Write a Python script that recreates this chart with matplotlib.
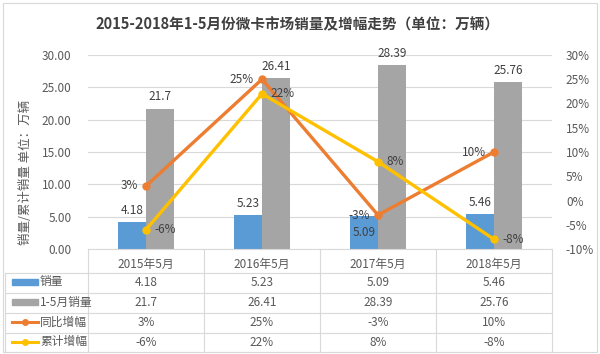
import numpy as np
import matplotlib
matplotlib.use('Agg')
import matplotlib.pyplot as plt
import matplotlib.transforms as mtransforms
from matplotlib.lines import Line2D
from matplotlib.patches import Rectangle

plt.rcParams['font.family'] = ['Noto Sans CJK SC', 'DejaVu Sans']

# data
categories = ['2015年5月', '2016年5月', '2017年5月', '2018年5月']
sales_may = [4.18, 5.23, 5.09, 5.46]
sales_jan_may = [21.7, 26.41, 28.39, 25.76]
yoy_growth = [3, 25, -3, 10]
cum_growth = [-6, 22, 8, -8]
series_names = ['销量', '1-5月销量', '同比增幅', '累计增幅']

c_blue = '#5B9BD5'
c_gray = '#A5A5A5'
c_orange = '#ED7D31'
c_yellow = '#FFC000'
txt = '#595959'
grid_c = '#D9D9D9'

W, H = 600, 354
fig = plt.figure(figsize=(6, 3.54), dpi=100)

def fx(px):
    return px / W

def fy(py):
    return 1 - py / H

# plot area in pixels: x 88..552, y 55..249
ax = fig.add_axes([fx(88), fy(249), fx(552) - fx(88), fy(55) - fy(249)])
ax2 = ax.twinx()

x = np.arange(len(categories))
bw = 0.24
ax.bar(x - bw / 2, sales_may, bw, color=c_blue, zorder=2)
ax.bar(x + bw / 2, sales_jan_may, bw, color=c_gray, zorder=2)

ax.set_xlim(-0.5, 3.5)
ax.set_ylim(0, 30)
ax.set_yticks(np.arange(0, 31, 5))
ax.set_yticklabels(['%.2f' % v for v in np.arange(0, 31, 5)])
ax.yaxis.grid(True, color=grid_c, lw=0.8, zorder=0)
ax.set_axisbelow(True)
ax.set_xticks([])
for s in ['top', 'left', 'right']:
    ax.spines[s].set_visible(False)
ax.spines['bottom'].set_color(grid_c)
ax.tick_params(axis='y', length=0, pad=12, labelsize=8.5, labelcolor=txt)

# bar labels
for i, v in enumerate(sales_may):
    if i == 2:
        ax.text(i - bw / 2, v - 1.6, '%.2f' % v, ha='center', va='top', fontsize=8.5, color='#404040')
    else:
        ax.text(i - bw / 2, v + 0.8, '%.2f' % v, ha='center', va='bottom', fontsize=8.5, color='#404040')
for i, v in enumerate(sales_jan_may):
    ax.text(i + bw / 2, v + 0.8, '%g' % v, ha='center', va='bottom', fontsize=8.5, color='#404040')

ax2.plot(x, yoy_growth, color=c_orange, lw=2.4, marker='o', ms=5, zorder=3)
ax2.plot(x, cum_growth, color=c_yellow, lw=2.4, marker='o', ms=5, zorder=3)
ax2.set_ylim(-10, 30)
ax2.set_yticks(np.arange(-10, 31, 5))
ax2.set_yticklabels(['%d%%' % v for v in np.arange(-10, 31, 5)])
ax2.tick_params(axis='y', length=0, pad=10, labelsize=8.5, labelcolor=txt)
for s in ax2.spines.values():
    s.set_visible(False)

for i, v in enumerate(yoy_growth):
    ax2.text(i - 0.07, v, '%d%%' % v, ha='right', va='center', fontsize=8.5, color='#404040')
for i, v in enumerate(cum_growth):
    ax2.text(i + 0.07, v, '%d%%' % v, ha='left', va='center', fontsize=8.5, color='#404040')

ax.set_ylabel('销量/累计销量 单位：万辆', fontsize=9, color=txt)
ax.yaxis.set_label_coords((32 - 88) / 464, (249 - 172) / 194)

fig.text(0.495, fy(24), '2015-2018年1-5月份微卡市场销量及增幅走势（单位：万辆）',
         ha='center', va='center', fontsize=10.5, fontweight='bold', color='#404040')

# data table under the chart
tr = mtransforms.blended_transform_factory(ax.transData, fig.transFigure)
row_y = [264, 282, 302, 322, 342]
rows = [
    ['%.2f' % v for v in sales_may],
    ['%g' % v for v in sales_jan_may],
    ['%d%%' % v for v in yoy_growth],
    ['%d%%' % v for v in cum_growth],
]
for i, c in enumerate(categories):
    fig.text(i, fy(row_y[0]), c, transform=tr, ha='center', va='center', fontsize=8.5, color=txt)
for r, vals in enumerate(rows):
    for i, v in enumerate(vals):
        fig.text(i, fy(row_y[r + 1]), v, transform=tr, ha='center', va='center', fontsize=8.5, color=txt)

# table grid
for xb in np.arange(-0.5, 3.6, 1.0):
    fig.add_artist(Line2D([xb, xb], [fy(249), fy(352)], transform=tr, color=grid_c, lw=0.8))
for py in [273, 293, 313, 333, 352]:
    fig.add_artist(Line2D([fx(5), fx(552)], [fy(py), fy(py)], color=grid_c, lw=0.8))
fig.add_artist(Line2D([fx(5), fx(5)], [fy(273), fy(352)], color=grid_c, lw=0.8))

# legend keys inside table
fig.add_artist(Rectangle((fx(12), fy(285)), fx(26), fy(279) - fy(285), color=c_blue))
fig.add_artist(Rectangle((fx(12), fy(305)), fx(26), fy(299) - fy(305), color=c_gray))
for py, col in [(322, c_orange), (342, c_yellow)]:
    fig.add_artist(Line2D([fx(12), fx(38)], [fy(py), fy(py)], color=col, lw=2.2))
    fig.add_artist(Line2D([fx(25)], [fy(py)], color=col, marker='o', ms=4))
for r, name in enumerate(series_names):
    fig.text(fx(40), fy(row_y[r + 1]), name, ha='left', va='center', fontsize=8.5, color=txt)

# chart border
fig.add_artist(Rectangle((fx(3), fy(352)), fx(594), fy(3) - fy(352), fill=False, ec=grid_c, lw=0.8))

fig.savefig('out.png', dpi=100)
